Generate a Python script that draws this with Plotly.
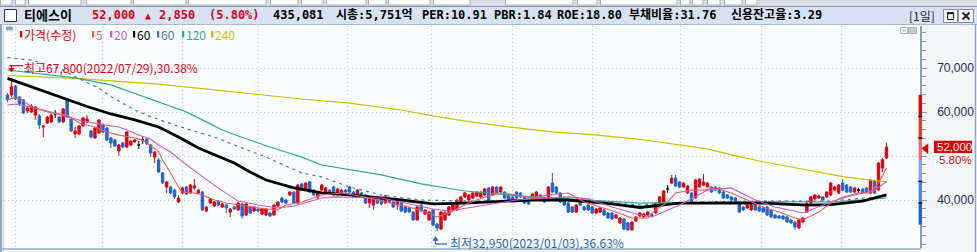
import plotly.graph_objects as go

# ---------------- data ----------------
opens = [63850, 63850, 65900, 63400, 62750, 60250, 60000, 59300, 59100, 56600,
         57500, 57750, 59550, 58850, 57750, 62750, 58400, 55000, 55000, 56800,
         57750, 55700, 54100, 55250, 57050, 56350, 54100, 53650, 51150, 52950,
         52050, 52500, 53200, 52500, 53650, 53850, 52500, 49750, 49100, 46150,
         42950, 42950, 42250, 39550, 41600, 42950, 41600, 42750, 41600, 41800,
         37500, 39300, 38650, 39750, 38400, 38850, 37250, 38400, 37750, 39100,
         36600, 38400, 37500, 37950, 36800, 36600, 37050, 36600, 38650, 40450,
         40000, 41150, 41800, 39300, 43650, 42250, 44100, 42250, 40700, 42250,
         41600, 42250, 42950, 41150, 41350, 42250, 42950, 41800, 41150, 41600,
         41150, 39300, 38850, 40000, 40250, 39300, 40450, 39550, 38850, 39300,
         38400, 38200, 37250, 35450, 38850, 36800, 35450, 37750, 34550, 33400,
         35450, 36600, 37750, 37750, 39300, 40700, 40000, 40450, 40900, 40700,
         41150, 42750, 41150, 42950, 41800, 41800, 41150, 40700, 41800, 41600,
         40700, 40000, 40450, 40700, 41150, 40250, 40450, 43850, 42950, 41600,
         40450, 39300, 38400, 37250, 40000, 38400, 38850, 38400, 37050, 37250,
         37750, 37050, 37050, 35900, 34800, 35700, 34800, 33200, 35250, 36350,
         36150, 36600, 36800, 37050, 39300, 39300, 42500, 43850, 45000, 44100,
         42950, 41600, 41600, 40450, 42950, 43400, 42950, 42950, 42950, 42750,
         41800, 41150, 40700, 40450, 39550, 38400, 38200, 37750, 38850, 38400,
         38200, 38400, 37750, 36600, 36350, 36350, 36150, 35450, 35000, 33650,
         35000, 37250, 39300, 40250, 40450, 40700, 40700, 41150, 42250, 41600,
         43850, 43400, 42950, 41800, 42250, 42500, 42750, 41600, 44300, 42250,
         47250, 49550]
highs = [64300, 67800, 66150, 63650, 62950, 61350, 61800, 61350, 59550, 57050,
         59100, 59550, 60450, 59100, 60900, 62950, 58650, 56600, 57050, 58850,
         59300, 55900, 56600, 58400, 57500, 56600, 54300, 53850, 52750, 53200,
         55700, 53650, 53850, 53400, 54550, 54100, 52750, 51150, 49550, 46350,
         44300, 43200, 42500, 41150, 42950, 43200, 43650, 44750, 42500, 42050,
         38650, 40450, 39750, 40000, 39300, 39100, 38200, 38650, 39550, 39300,
         39300, 38650, 38650, 38200, 38200, 38200, 37250, 39100, 39750, 40700,
         40250, 42050, 42050, 43650, 43850, 44100, 44300, 42500, 41800, 43650,
         42950, 42500, 43200, 42750, 42500, 42500, 43200, 42050, 42500, 41800,
         41350, 40900, 40700, 40250, 40450, 41150, 40700, 39750, 40250, 39550,
         38650, 38400, 37500, 38650, 39100, 37950, 37500, 37950, 34800, 37500,
         37500, 38650, 39100, 40250, 40900, 41800, 41350, 41800, 42050, 42050,
         42750, 42950, 43200, 43200, 43200, 42050, 41350, 40900, 42050, 41800,
         40900, 40250, 41600, 42050, 41350, 40450, 43200, 46150, 43200, 41800,
         40700, 39550, 38650, 39100, 40250, 38650, 39100, 38650, 38200, 38400,
         37950, 37250, 37250, 36800, 36150, 35900, 35000, 35250, 36350, 37250,
         37050, 37500, 37050, 39550, 40900, 42250, 43400, 45700, 45700, 44300,
         44100, 43400, 41800, 44750, 45000, 45900, 44100, 43200, 43200, 42950,
         42050, 41350, 40900, 40700, 39750, 38650, 39100, 39100, 39100, 38650,
         38400, 38650, 37950, 36800, 36600, 36600, 36350, 35700, 35250, 35700,
         36150, 39550, 40900, 41350, 41150, 40900, 42050, 44100, 43200, 43650,
         44750, 43650, 43200, 42950, 42750, 42750, 42950, 44750, 44550, 48650,
         49550, 53000]
lows = [62250, 63400, 62750, 61350, 59550, 59750, 59750, 58200, 56150, 54300,
        57250, 57500, 58650, 57500, 57500, 58650, 55450, 54100, 54750, 56600,
        57500, 54100, 53850, 55000, 55250, 53400, 51800, 52050, 50000, 51800,
        51800, 52250, 52950, 51600, 52750, 52500, 49750, 48400, 46150, 43650,
        41600, 41350, 40250, 39300, 41350, 41150, 41350, 42250, 41350, 37500,
        37250, 39100, 38400, 38650, 38200, 37050, 36150, 37750, 37500, 35700,
        36350, 36800, 37250, 37250, 36600, 36350, 36150, 36350, 38400, 39300,
        39100, 40900, 39100, 39100, 42050, 42050, 41600, 40900, 40250, 42050,
        41350, 41350, 40900, 40900, 41150, 41600, 41600, 40450, 40900, 40900,
        39100, 38200, 37750, 39100, 38850, 39100, 39300, 38200, 37750, 37250,
        37050, 37050, 35250, 35250, 37250, 36600, 35250, 34100, 32950, 33200,
        35250, 36350, 37500, 37500, 39100, 40450, 39750, 40250, 40700, 40450,
        40900, 39300, 40900, 41350, 41600, 40250, 39750, 39750, 40250, 40450,
        39100, 38850, 40250, 40450, 40450, 39300, 40250, 41600, 41350, 39300,
        38650, 37050, 37050, 37050, 38650, 37500, 37500, 36800, 36800, 37050,
        36350, 35700, 35450, 35700, 34550, 33200, 33050, 33050, 35000, 36150,
        35900, 36350, 36150, 36800, 39100, 39100, 41600, 43650, 42950, 42750,
        42750, 41350, 39300, 40250, 42750, 43200, 42750, 41600, 42050, 41350,
        40250, 40250, 39750, 39100, 37050, 37500, 37950, 37500, 37500, 37250,
        37050, 36350, 35900, 35700, 35700, 35450, 34800, 34550, 33200, 33400,
        34800, 37050, 39100, 40000, 40250, 39750, 40450, 40900, 42050, 41350,
        42050, 41600, 41600, 41600, 41600, 41350, 41600, 41350, 41350, 42050,
        46350, 49300]
closes = [62750, 65700, 62950, 61800, 59750, 60900, 61350, 61150, 57050, 56800,
          58850, 59300, 59550, 57750, 60700, 58850, 55700, 55700, 56800, 58650,
          58400, 54300, 56350, 58200, 55450, 53650, 52950, 52250, 52500, 52050,
          55450, 53400, 53650, 52500, 53650, 52750, 50700, 50900, 46350, 43850,
          44100, 41600, 40700, 40450, 42750, 41350, 43400, 43200, 42250, 37750,
          38400, 40250, 39550, 38850, 39100, 38200, 37950, 37950, 39300, 36350,
          39100, 37050, 38400, 37500, 37950, 37950, 36350, 38850, 39550, 39550,
          39300, 41800, 39300, 43400, 42250, 43850, 41800, 41150, 41600, 43400,
          42750, 41600, 41150, 42500, 42250, 41800, 41800, 40700, 42250, 41150,
          39300, 40700, 40450, 39300, 39100, 40900, 39550, 38400, 40000, 37500,
          37250, 37250, 35450, 38400, 37500, 37750, 37250, 34300, 33650, 37250,
          37050, 38400, 38850, 40000, 40700, 41600, 41150, 41600, 41800, 41800,
          42500, 39550, 42950, 41600, 42950, 40450, 40000, 40000, 40450, 40700,
          39300, 39100, 41350, 41800, 40700, 39550, 42950, 41800, 41600, 39550,
          38850, 37250, 37250, 38850, 38850, 37750, 37750, 37050, 37950, 38200,
          36600, 35900, 35700, 36600, 35900, 33400, 33200, 35000, 36150, 37050,
          36800, 37250, 36350, 39300, 40700, 42050, 42500, 45000, 43200, 42950,
          43850, 43200, 39550, 44550, 44750, 44100, 43850, 41800, 42250, 41600,
          40450, 40450, 40000, 39300, 37250, 37750, 38850, 38850, 37750, 37500,
          37250, 36600, 36150, 35900, 35900, 35700, 35000, 34800, 33850, 35450,
          35900, 39300, 40700, 41150, 40900, 40000, 41800, 43850, 42950, 43400,
          42250, 41800, 41800, 42750, 42250, 41600, 41800, 44550, 41600, 48400,
          49150, 52000]

# moving-average lines, read at sparse candle positions
ma5_x = [0, 2, 3, 6, 11, 15, 18, 22, 25, 28, 32, 34, 38, 39, 41, 43, 44, 47, 49, 52,
         55, 58, 62, 65, 68, 70, 74, 79, 84, 90, 95, 101, 105, 108, 111, 116, 120, 124, 128, 132,
         136, 141, 145, 149, 153, 157, 161, 163, 166, 168, 172, 175, 178, 182, 186, 190, 194, 198, 200, 204,
         207, 210, 214, 217, 219, 221]
ma5_y = [62750, 63400, 63200, 61150, 59750, 59300, 57500, 56600, 55450, 54750,
         54100, 53650, 51000, 49100, 46150, 42950, 41800, 41600, 41150, 40000,
         39300, 38850, 38400, 37950, 37750, 38850, 39550, 41150, 41600, 40700,
         39550, 38400, 37250, 36150, 37050, 39300, 40700, 41600, 41150, 40450,
         41150, 41600, 39550, 38400, 37250, 35900, 35900, 37750, 39550, 41600,
         42250, 42250, 42750, 41600, 40000, 38400, 37250, 35900, 35450, 37250,
         39300, 40700, 41600, 41600, 43850, 47250]
ma20_x = [0, 2, 6, 11, 15, 19, 23, 28, 30, 33, 36, 38, 41, 44, 48, 53, 58, 63, 68, 72,
          79, 82, 94, 99, 107, 111, 116, 120, 128, 136, 141, 146, 152, 159, 162, 169, 176, 182, 188, 193,
          200, 207, 211, 218, 221]
ma20_y = [61600, 61800, 61150, 60000, 58850, 57950, 57250, 56600, 55900, 54750,
          53850, 52500, 50900, 48700, 46000, 42700, 39750, 38850, 38200, 38650,
          40450, 40700, 40450, 39550, 37950, 37500, 38200, 38850, 40000, 40450,
          40700, 40250, 38400, 36600, 36150, 38850, 42250, 42750, 40000, 38400,
          37050, 39550, 40700, 42250, 44100]
ma60_x = [0, 6, 15, 20, 26, 32, 38, 43, 48, 52, 57, 61, 65, 72, 79, 86, 99, 107, 115, 132,
          141, 152, 159, 169, 190, 201, 207, 215, 221]
ma60_y = [67650, 65750, 62750, 61250, 59550, 58200, 56600, 54300, 51800, 50250,
          48400, 46350, 44550, 42750, 41600, 41150, 40000, 39100, 39300, 40000,
          40000, 39100, 38300, 39300, 39300, 38850, 38950, 39750, 41150]
ma60b_x = [0, 6, 13, 17, 23, 26, 32, 36, 42, 48, 53, 57, 65, 74, 79, 86, 94, 104, 115, 132,
           149, 159, 174, 190, 207, 221]
ma60b_y = [72350, 71800, 69950, 68000, 65400, 63500, 60450, 58950, 57050, 55400,
           54000, 52500, 49750, 46150, 45250, 42950, 41150, 40000, 39750, 40000,
           39550, 38850, 39550, 39750, 39750, 40900]
ma120_x = [0, 17, 26, 33, 40, 45, 50, 54, 58, 66, 74, 79, 94, 104, 115, 129, 141, 159, 174, 190,
           207, 214, 221]
ma120_y = [69550, 67750, 66150, 63850, 61600, 60000, 57750, 55900, 54550, 52050,
           49750, 47950, 45700, 43650, 42050, 40900, 40250, 39300, 39450, 39650,
           39550, 40000, 40450]
ma240_x = [0, 18, 38, 58, 74, 86, 99, 107, 116, 127, 137, 147, 159, 176, 182, 190, 199, 204, 210, 215, 221]
ma240_y = [68300, 67600, 66350, 64450, 62950, 62000, 60450, 59100, 57800, 56500,
           55500, 54850, 53800, 51600, 50250, 48700, 47200, 46450, 45300, 44750, 44150]

stock_name = "티에스이"
volume_text = "435,081"
info_texts = ["시총:5,751억", "PER:10.91", "PBR:1.84", "ROE:18.80", "부채비율:31.76", "신용잔고율:3.29"]
period_text = "[1일]"
max_date = "2022/07/29"
min_date = "2023/01/03"
legend_labels = ["가격(수정)", "5", "20", "60", "60", "120", "240"]
y_tick_vals = [40000, 50000, 60000, 70000]
y_tick_text = ["40,000", "", "60,000", "70,000"]
month_starts = [1.9, 24.0, 44.1, 63.2, 85.6, 106.7, 126.9, 147.2, 169.1, 189.5, 209.6]

# ---------------- styling / geometry ----------------
RED = "#E20012"
BLUE = "#1E64D2"
C5, C20, C60, C60B, C120, C240 = "#EC5F55", "#C95AD0", "#000000", "#3A78BE", "#2DA991", "#C6C200"
AXC = "#8C9DBB"
BG = "#FAFDFE"

W, H = 977, 252
PL, PR, PT, PB = 4, 920, 26, 248
X_RANGE = [-0.88, 229.44]
Y_RANGE = [29091, 79545]


def fx(px):
    return (px - PL) / (PR - PL)


def fy(py):
    return (PB - py) / (PB - PT)


def xpx(i):
    return PL + (i - X_RANGE[0]) / (X_RANGE[1] - X_RANGE[0]) * (PR - PL)


def ypx(v):
    return PB - (v - Y_RANGE[0]) / (Y_RANGE[1] - Y_RANGE[0]) * (PB - PT)


shapes = []
annots = []


def rect(x0, y0, x1, y1, fill, line=None, lw=0, layer="above"):
    shapes.append(dict(type="rect", xref="paper", yref="paper",
                       x0=fx(x0), x1=fx(x1), y0=fy(y1), y1=fy(y0),
                       fillcolor=fill, line=dict(color=line or fill, width=lw), layer=layer))


def seg(x0, y0, x1, y1, color, lw=1, layer="above"):
    shapes.append(dict(type="line", xref="paper", yref="paper",
                       x0=fx(x0), x1=fx(x1), y0=fy(y0), y1=fy(y1),
                       line=dict(color=color, width=lw), layer=layer))


def poly(pts, fill):
    p = "M " + " L ".join(f"{fx(a):.5f},{fy(b):.5f}" for a, b in pts) + " Z"
    shapes.append(dict(type="path", xref="paper", yref="paper", path=p,
                       fillcolor=fill, line=dict(color=fill, width=0.5)))


def text(s, x, y, color, size=12, family="Noto Sans CJK KR", bold=False, anchor="left"):
    annots.append(dict(text=f"<b>{s}</b>" if bold else s, x=fx(x), y=fy(y),
                       xref="paper", yref="paper", xanchor=anchor, yanchor="middle",
                       showarrow=False, borderpad=0, borderwidth=0,
                       font=dict(color=color, size=size, family=family)))


fig = go.Figure()

# moving averages
for xs, ys, col, wd, dash in [
    (ma240_x, ma240_y, C240, 1.2, "solid"),
    (ma120_x, ma120_y, C120, 1.2, "solid"),
    (ma60b_x, ma60b_y, C60B, 1.2, "3px,4px"),
    (ma60_x, ma60_y, C60, 2.8, "solid"),
    (ma20_x, ma20_y, C20, 1.1, "solid"),
    (ma5_x, ma5_y, C5, 1.1, "solid"),
]:
    fig.add_trace(go.Scatter(x=xs, y=ys, mode="lines", line=dict(color=col, width=wd, dash=dash),
                             hoverinfo="skip", showlegend=False))

# candles
idx = list(range(len(closes)))
nd = [i for i in idx if opens[i] != closes[i]]
dj = [i for i in idx if opens[i] == closes[i]]
fig.add_trace(go.Candlestick(
    x=nd, open=[opens[i] for i in nd], high=[highs[i] for i in nd],
    low=[lows[i] for i in nd], close=[closes[i] for i in nd],
    increasing=dict(line=dict(color=RED, width=1), fillcolor=RED),
    decreasing=dict(line=dict(color=BLUE, width=1), fillcolor=BLUE),
    whiskerwidth=0, showlegend=False, hoverinfo="skip"))
fig.add_trace(go.Candlestick(
    x=dj, open=[opens[i] for i in dj], high=[highs[i] for i in dj],
    low=[lows[i] for i in dj], close=[closes[i] for i in dj],
    increasing=dict(line=dict(color="#000000", width=1), fillcolor="#000000"),
    decreasing=dict(line=dict(color="#000000", width=1), fillcolor="#000000"),
    whiskerwidth=0, showlegend=False, hoverinfo="skip"))

last = closes[-1]
prev = closes[-2]
chg = last - prev
pct = chg / prev * 100

# ---------------- frame / header ----------------
rect(921, 25, 975, 252, "#F2F6F7", layer="below")
rect(0, 0, 977, 6.5, "#D9DDE2")
for a, b in [(0, 12), (15, 25), (28, 81), (86, 131), (133, 186), (188, 266), (270, 298), (301, 323),
             (326, 366), (368, 386), (388, 430), (433, 470), (505, 573), (577, 597), (600, 677),
             (680, 690), (692, 703), (707, 720), (724, 742), (745, 757)]:
    rect(a + 0.5, -2, b, 5, "#FFFFFF", line="#A8AEB6", lw=1)
rect(0, 6.5, 977, 24, "#D7E3F5")
seg(0, 6.5, 977, 6.5, "#8294B4", 1)
seg(0, 24.5, 977, 24.5, "#A9B9D2", 1)
rect(4.5, 9.5, 16.5, 21.5, "#FFFFFF", line="#333333", lw=1)
# window buttons
rect(943.5, 9.5, 957.5, 22.5, "#F3F5F9", line="#7F8FA8", lw=1)
rect(947.5, 12.5, 953.5, 19.5, "rgba(0,0,0,0)", line="#222222", lw=1)
seg(947.5, 13.2, 953.5, 13.2, "#222222", 2)
rect(958.5, 9.5, 973.5, 22.5, "#F3F5F9", line="#7F8FA8", lw=1)
seg(962.5, 12.5, 969.5, 19.5, "#222222", 2)
seg(962.5, 19.5, 969.5, 12.5, "#222222", 2)
# left / right panel borders
seg(1, 24, 1, 252, "#8EA3C2", 2)
seg(3.3, 24, 3.3, 252, "#C9D3E2", 1)
seg(975.5, 24, 975.5, 252, "#8EA3C2", 1.5)
seg(0, 249, 921, 249, "#9AAAC4", 1.5)
# small panel icons
rect(900.5, 27.5, 907.5, 33.5, "#FFFFFF", line="#AAB3C0", lw=1)
rect(902.5, 29.5, 905.5, 31.5, "#AAB3C0")
rect(908.5, 27.5, 916.5, 33.5, "#C3CAD4", line="#AAB3C0", lw=1)
rect(6, 26.5, 13, 30.5, "#8FA6C6")

HF = "DejaVu Sans Mono, Noto Sans CJK KR"
HY = 15.5
text(stock_name, 24, HY, "#000000", 13, HF, True)
text(f"{last:,}", 92, HY, RED, 12, HF, True)
text("▲", 145, HY, RED, 10, HF, True)
text(f"{chg:,}", 159, HY, RED, 12, HF, True)
text(f"({pct:.2f}%)", 209, HY, RED, 12, HF, True)
text(volume_text, 273, HY, "#000000", 12, HF, True)
for s, px in zip(info_texts, [336, 422, 494, 557, 629, 731]):
    text(s, px, HY, "#000000", 12, HF, True)
text(period_text, 909, HY, "#222222", 12, "Noto Sans CJK KR")

# legend row
LY = 34.5
leg_cols = [RED, C5, C20, C60, C60B, C120, C240]
for lab, col, bx in zip(legend_labels, leg_cols, [20, 92, 110, 133, 157, 182, 211]):
    rect(bx, 31, bx + 2.2, 37.5, col)
    rect(bx + 2.2, 31, bx + 3.4, 37.5, "#D5D5D5")
    text(lab, bx + 4, LY, col, 12, "Noto Sans CJK KR")

# ---------------- max / min markers ----------------
imax = max(idx, key=lambda i: highs[i])
imin = min(idx, key=lambda i: lows[i])
hmax, lmin = highs[imax], lows[imin]
tx, ty = xpx(imax), ypx(hmax)
seg(tx - 2.2, ty - 12, tx + 11.5, ty - 12, RED, 1.2)
seg(tx, ty - 12, tx, ty - 9, RED, 1.2)
poly([(tx - 2.8, ty - 9.5), (tx + 2.8, ty - 9.5), (tx, ty - 5.5)], RED)
text(f"최고{hmax:,}({max_date}),{(hmax - last) / last * 100:.2f}%", tx + 12.5, ty - 9.7, RED, 12)

bx_, by_ = xpx(imin), ypx(lmin)
poly([(bx_ - 4.0, by_ + 9.5), (bx_ + 1.0, by_ + 9.5), (bx_ - 1.5, by_ + 5.5)], "#1E5FCC")
seg(bx_ - 1.5, by_ + 9, bx_ - 1.5, by_ + 13, "#1E5FCC", 1.2)
seg(bx_ - 1.5, by_ + 13, bx_ + 10, by_ + 13, "#1E5FCC", 1.2)
text(f"최저{lmin:,}({min_date}),{(last - lmin) / last * 100:.2f}%", bx_ + 13, by_ + 11, "#1E5FCC", 12)

# ---------------- price-limit band on the axis ----------------
band_cols = ["#E00000", "#E63A3A", "#EE6B6B", "#7FA7E6", "#4C85DC", "#1F60CE"]
levels = [prev * (1 + k / 10) for k in (3, 2, 1, 0, -1, -2, -3)]
for k in range(6):
    rect(918.6, ypx(levels[k]), 922, ypx(levels[k + 1]), band_cols[k])
for k in (1, 2, 4, 5):
    seg(918.3, ypx(levels[k]), 922.3, ypx(levels[k]), "#111111", 1.5)

yl = ypx(last)
poly([(922, yl + 1.5), (928, yl - 3.5), (928, yl + 6.5)], "#E00000")
rect(934, yl - 6.5, 972, yl + 6, "#E00000")
rect(934, yl + 6, 972, yl + 20, "#FFFFFF")
text(f"{last:,}", 972, yl - 0.3, "#FFFFFF", 11.5, "Liberation Sans", anchor="right")
text(f"{pct:.2f}%", 972, yl + 13.2, "#E00000", 11.5, "Liberation Sans", anchor="right")

GRID = "#C5CAD1"
fig.update_layout(
    width=W, height=H,
    margin=dict(l=PL, r=W - PR, t=PT, b=H - PB, pad=0),
    paper_bgcolor=BG, plot_bgcolor=BG,
    showlegend=False, hovermode=False,
    boxgap=0.2, boxgroupgap=0.25,
    shapes=shapes, annotations=annots,
    xaxis=dict(range=X_RANGE, rangeslider=dict(visible=False), showticklabels=False,
               tickmode="array", tickvals=month_starts, ticks="",
               showgrid=True, gridcolor=GRID, griddash="1px,3px", gridwidth=1,
               zeroline=False, showline=False, fixedrange=True),
    yaxis=dict(range=Y_RANGE, side="right", tickmode="array", tickvals=y_tick_vals,
               ticktext=y_tick_text, ticks="outside", ticklen=5, tickcolor=AXC,
               ticklabelstandoff=8,
               tickfont=dict(family="Liberation Sans", size=12, color="#1F2858"),
               minor=dict(tickmode="linear", tick0=0, dtick=2000, ticks="outside",
                          ticklen=4, tickcolor=AXC, showgrid=False),
               showgrid=True, gridcolor=GRID, griddash="1px,3px", gridwidth=1,
               zeroline=False, showline=True, linecolor=AXC, linewidth=1.5, fixedrange=True),
)

fig.write_html("out.html")
